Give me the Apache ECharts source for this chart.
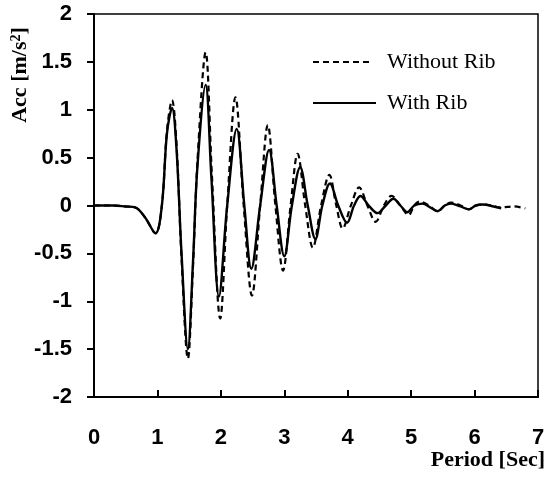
<!DOCTYPE html>
<html>
<head>
<meta charset="utf-8">
<script src="https://cdn.jsdelivr.net/npm/echarts@6/dist/echarts.min.js"></script>
<style>html,body{margin:0;padding:0;background:#fff}#c{width:548px;height:483px}</style>
</head>
<body>
<div id="c"></div>
<script>
// Period [Sec], Acc [m/s^2]
const withRibT = [0,0.3,0.5,0.65,0.8,0.97,1.07,1.15,1.23,1.3,1.38,1.48,1.56,1.63,1.76,1.85,1.97,2.1,2.25,2.37,2.48,2.62,2.76,2.88,3.0,3.12,3.25,3.37,3.49,3.6,3.72,3.85,3.99,4.1,4.2,4.33,4.47,4.6,4.72,4.83,4.94,5.05,5.18,5.3,5.42,5.53,5.63,5.78,5.91,6.02,6.13,6.3,6.42];
const withRibV = [0,0,-0.01,-0.02,-0.12,-0.29,0,0.75,1.02,0.6,-0.5,-1.5,-0.6,0.4,1.26,0.3,-0.95,0,0.8,0,-0.66,0,0.58,0,-0.53,0,0.4,0,-0.35,0,0.23,0,-0.18,0,0.1,0,-0.08,0,0.07,0,-0.07,0,0.02,-0.02,-0.06,0,0.02,-0.01,-0.04,0,0.01,-0.01,-0.03];
const withoutRibT = [0,0.3,0.5,0.65,0.8,0.97,1.07,1.15,1.23,1.3,1.38,1.48,1.56,1.63,1.76,1.86,1.99,2.1,2.23,2.36,2.49,2.62,2.74,2.86,2.98,3.1,3.21,3.33,3.45,3.58,3.71,3.82,3.92,4.05,4.18,4.31,4.44,4.57,4.69,4.83,4.96,5.05,5.13,5.28,5.42,5.53,5.63,5.78,5.91,6.02,6.13,6.28,6.4,6.62,6.8];
const withoutRibV = [0,0,-0.01,-0.02,-0.12,-0.29,0,0.78,1.1,0.65,-0.55,-1.6,-0.65,0.45,1.6,0.3,-1.18,0,1.13,0,-0.94,0,0.84,0,-0.68,0,0.54,0,-0.44,0,0.32,0,-0.24,0,0.19,0,-0.17,0,0.1,0,-0.1,0,0.04,0,-0.06,0,0.03,0,-0.04,0,0.01,0,-0.02,-0.01,-0.03];
const xTicks = {min:0, max:7, interval:1};
const yTicks = {min:-2, max:2, interval:0.5};
const legendNames = ['Without Rib','With Rib'];

const zip = (t,v) => t.map((x,i)=>[x,v[i]]);
const chart = echarts.init(document.getElementById('c'));
const lab = {color:'#000', fontFamily:'Arial, "Liberation Sans", sans-serif', fontWeight:'bold', fontSize:22};
chart.setOption({
  animation:false,
  backgroundColor:'#fff',
  grid:{left:94, right:10, top:14, bottom:86, show:true, borderColor:'#000', borderWidth:1.5},
  xAxis:{type:'value', min:xTicks.min, max:xTicks.max, interval:xTicks.interval,
    axisLine:{show:true, onZero:false, lineStyle:{color:'#000', width:2}},
    axisTick:{show:true, inside:true, length:7, lineStyle:{color:'#000', width:2}},
    splitLine:{show:false},
    axisLabel:Object.assign({margin:30}, lab)},
  yAxis:{type:'value', min:yTicks.min, max:yTicks.max, interval:yTicks.interval,
    axisLine:{show:true, onZero:false, lineStyle:{color:'#000', width:2}},
    axisTick:{show:true, inside:false, length:7, lineStyle:{color:'#000', width:2}},
    splitLine:{show:false},
    axisLabel:Object.assign({margin:22}, lab)},
  series:[
    {name:legendNames[0], type:'line', data:zip(withoutRibT, withoutRibV), showSymbol:false, smooth:0.35,
      lineStyle:{color:'#000', width:2.2, type:[6,4]}},
    {name:legendNames[1], type:'line', data:zip(withRibT, withRibV), showSymbol:false, smooth:0.35,
      lineStyle:{color:'#000', width:2.4}}
  ],
  graphic:[
    {type:'line', shape:{x1:313,y1:62,x2:372,y2:62}, style:{stroke:'#000', lineWidth:2, lineDash:[6,4]}},
    {type:'text', x:387, y:62, style:{text:legendNames[0], fill:'#000', font:'22px "Liberation Serif", "Times New Roman", serif', verticalAlign:'middle'}},
    {type:'line', shape:{x1:313,y1:103,x2:376,y2:103}, style:{stroke:'#000', lineWidth:2}},
    {type:'text', x:387, y:103, style:{text:legendNames[1], fill:'#000', font:'22px "Liberation Serif", "Times New Roman", serif', verticalAlign:'middle'}},
    {type:'text', x:545, y:460, style:{text:'Period [Sec]', fill:'#000', font:'bold 22px "Liberation Serif", "Times New Roman", serif', align:'right', verticalAlign:'middle'}},
    {type:'text', x:20, y:75, rotation:Math.PI/2,
      style:{text:'Acc [m/s{sup|2}]', fill:'#000', font:'bold 22px "Liberation Serif", "Times New Roman", serif', align:'center', verticalAlign:'middle',
        rich:{sup:{fontSize:14, fontWeight:'bold', fontFamily:'"Liberation Serif", serif', verticalAlign:'top', padding:[0,0,8,0]}}}}
  ]
});
</script>
</body>
</html>
